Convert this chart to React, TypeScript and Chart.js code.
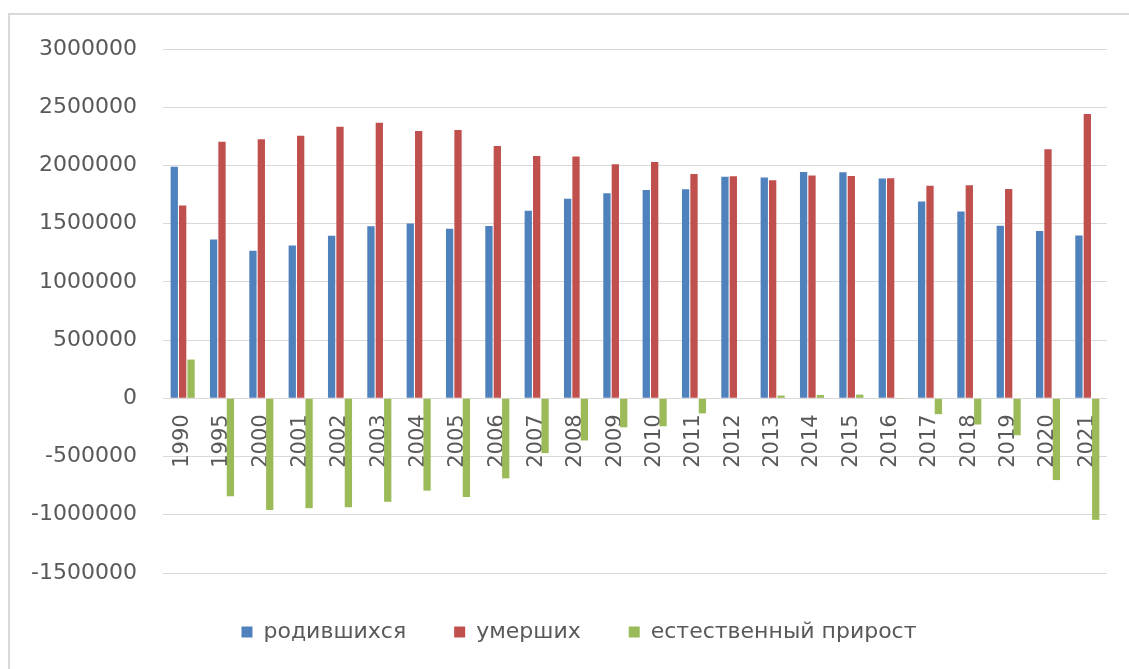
import React, { useEffect, useRef } from "react";
import { Chart, registerables } from "chart.js";

Chart.register(...registerables);

const years = [
  "1990", "1995", "2000", "2001", "2002", "2003", "2004", "2005", "2006", "2007", "2008",
  "2009", "2010", "2011", "2012", "2013", "2014", "2015", "2016", "2017", "2018", "2019",
  "2020", "2021",
];

const births = [
  1988858, 1363806, 1266800, 1311604, 1396967, 1477301, 1502477, 1457376, 1479637, 1610122,
  1713947, 1761687, 1788948, 1796629, 1902084, 1895822, 1942683, 1940579, 1888729, 1690307,
  1604344, 1481074, 1436514, 1398253,
];

const deaths = [
  1655993, 2203811, 2225332, 2254856, 2332272, 2365826, 2295402, 2303935, 2166703, 2080445,
  2075954, 2010543, 2028516, 1925720, 1906335, 1871809, 1913613, 1908541, 1891015, 1826125,
  1828910, 1798307, 2138586, 2441594,
];

const naturalGrowth = [
  332865, -840005, -958532, -943252, -935305, -888525, -792925, -846559, -687066, -470323,
  -362007, -248856, -239568, -129091, -4251, 24013, 29070, 32038, -2286, -135818,
  -224566, -317233, -702072, -1043341,
];

const seriesNames = ["родившихся", "умерших", "естественный прирост"];
const seriesColors = ["#4f81bd", "#c0504d", "#9bbb59"];

const yMin = -1500000;
const yMax = 3000000;
const yStep = 500000;

const legendShift = {
  id: "legendShift",
  afterLayout(chart: any) {
    const l = chart.legend;
    if (l) {
      l.left += 11;
      l.right += 11;
    }
  },
};

export default function App() {
  const canvasRef = useRef<HTMLCanvasElement | null>(null);

  useEffect(() => {
    if (!canvasRef.current) return;
    Chart.defaults.font.family = "'DejaVu Sans', sans-serif";
    const values = [births, deaths, naturalGrowth];
    const chart = new Chart(canvasRef.current, {
      type: "bar",
      data: {
        labels: years,
        datasets: values.map((v, i) => ({
          label: seriesNames[i],
          data: v,
          backgroundColor: seriesColors[i],
          borderWidth: 0,
          categoryPercentage: 0.64,
          barPercentage: 0.87,
        })),
      },
      plugins: [legendShift],
      options: {
        animation: false,
        responsive: true,
        maintainAspectRatio: false,
        layout: { padding: { left: 29, right: 22, top: 49, bottom: 16 } },
        plugins: {
          tooltip: { enabled: false },
          legend: {
            position: "bottom",
            labels: {
              boxWidth: 11,
              boxHeight: 11,
              padding: 48,
              color: "#595959",
              font: { size: 22 },
            },
          },
        },
        scales: {
          x: {
            position: { y: 0 } as any,
            z: 1,
            grid: { display: false, drawTicks: false },
            border: { display: false },
            ticks: {
              minRotation: 90,
              maxRotation: 90,
              autoSkip: false,
              padding: 16,
              color: "#595959",
              font: { size: 21 },
            },
          },
          y: {
            min: yMin,
            max: yMax,
            afterFit: (s: any) => {
              s.width = 134;
            },
            grid: { color: "#d9d9d9", lineWidth: 1, drawTicks: false },
            border: { display: false },
            ticks: {
              stepSize: yStep,
              padding: 26,
              color: "#595959",
              font: { size: 22 },
              callback: (v: any) => String(v),
            },
          },
        },
      },
    });
    return () => chart.destroy();
  }, []);

  return (
    <>
      <div
        style={{
          position: "fixed",
          left: 8,
          top: 13,
          width: 1121,
          height: 656,
          borderTop: "2px solid #d9d9d9",
          borderLeft: "2px solid #d9d9d9",
          boxSizing: "border-box",
        }}
      />
      <div style={{ position: "fixed", left: 0, top: 0, width: 1129, height: 669 }}>
        <canvas ref={canvasRef} />
      </div>
    </>
  );
}
